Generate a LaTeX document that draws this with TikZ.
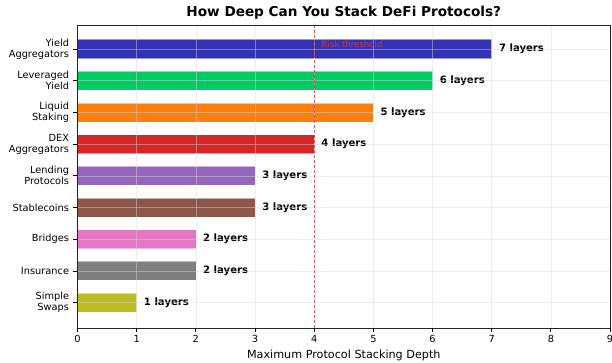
\documentclass[tikz,border=0pt]{standalone}
\usepackage{fontspec}
\setmainfont{DejaVu Sans}
\usetikzlibrary{positioning}
\definecolor{cYield}{HTML}{3333B3}
\definecolor{cLever}{HTML}{00CC66}
\definecolor{cLiquid}{HTML}{FF7F0E}
\definecolor{cDex}{HTML}{D62728}
\definecolor{cLend}{HTML}{9467BD}
\definecolor{cStable}{HTML}{8C564B}
\definecolor{cBridge}{HTML}{E377C2}
\definecolor{cInsur}{HTML}{7F7F7F}
\definecolor{cSwap}{HTML}{BCBD22}
\definecolor{cRisk}{HTML}{D63A3A}

\begin{document}
\begin{tikzpicture}[x=59.17pt, y=-31.7pt,
  bar/.style={draw=white, draw opacity=0.5, line width=0.6pt},
  gridline/.style={gray!30, line width=0.5pt, opacity=0.45},
  ylab/.style={anchor=east, align=right, font=\fontsize{9.8}{11}\selectfont, inner sep=0pt},
  xlab/.style={anchor=north, font=\fontsize{9.8}{11}\selectfont, inner sep=0pt},
  vallab/.style={anchor=west, font=\fontsize{10.1}{11}\selectfont\bfseries, inner sep=0pt}]
\useasboundingbox (-1.310,-1.546) rectangle (9.033,9.874);
% bars
\foreach \i/\v/\c/\name in {0/7/cYield/{Yield\\Aggregators}, 1/6/cLever/{Leveraged\\Yield},
    2/5/cLiquid/{Liquid\\Staking}, 3/4/cDex/{DEX\\Aggregators}, 4/3/cLend/{Lending\\Protocols},
    5/3/cStable/Stablecoins, 6/2/cBridge/Bridges, 7/2/cInsur/Insurance, 8/1/cSwap/{Simple\\Swaps}}{
  \fill[\c] (0,\i-0.3) rectangle (\v,\i+0.3);
  \draw[bar] (0,\i-0.3) rectangle (\v,\i+0.3);
  \node[vallab] (val\i) at (\v+0.12,\i) {\v\ layers};
  \draw[line width=0.8pt] (-0.075,\i) -- (0,\i);
  \node[ylab] (cat\i) at (-0.14,\i) {\name};
}
% grid
\foreach \k in {0,...,9}
  \draw[gridline] (\k,-0.757) -- (\k,8.80);
\foreach \i in {0,...,8}
  \draw[gridline] (0,\i) -- (9,\i);
% risk threshold
\draw[cRisk, dashed, dash pattern=on 3pt off 2pt, line width=0.6pt, opacity=0.8] (4,-0.757) -- (4,8.80);
\node[anchor=west, text=cRisk, opacity=0.85, font=\fontsize{8.6}{10}\selectfont, inner sep=0pt] (risk) at (4.12,-0.16) {Risk threshold};
% axes
\draw[line width=0.9pt, black!85] (0,-0.757) rectangle (9,8.80);
\foreach \k in {0,...,9}{
  \draw[line width=0.8pt] (\k,8.80) -- (\k,8.94);
  \node[xlab] (tick\k) at (\k,9.03) {\k};
}
\node[font=\fontsize{11.2}{13}\selectfont, inner sep=0pt] (xtitle) at (4.5,9.66) {Maximum Protocol Stacking Depth};
\node[font=\fontsize{13.6}{15}\selectfont\bfseries, inner sep=0pt] (title) at (4.5,-1.13) {How Deep Can You Stack DeFi Protocols?};
\end{tikzpicture}
\end{document}
